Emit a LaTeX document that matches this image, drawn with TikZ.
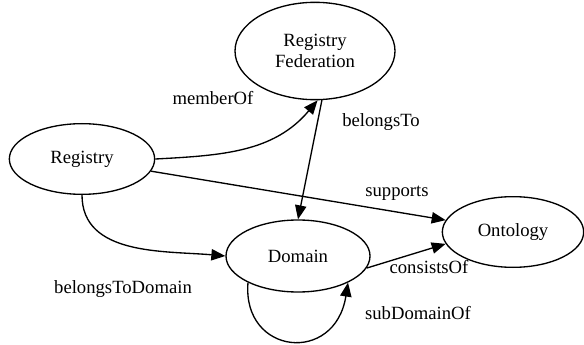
\documentclass[tikz,border=0pt]{standalone}
\usepackage{fontspec}
\setmainfont{Liberation Serif}
\usetikzlibrary{arrows.meta,positioning,shapes.geometric}

\begin{document}
\begin{tikzpicture}[x=0.75pt,y=-0.75pt,
    cls/.style={draw,ellipse,line width=1pt,inner sep=0pt,align=center,font=\fontsize{14}{16}\selectfont},
    rel/.style={-{Triangle[length=10.5pt,width=8.5pt]},line width=1pt},
    lbl/.style={font=\fontsize{14}{16}\selectfont}]
  \useasboundingbox (0,0) rectangle (584,345);

  % classes
  \node[cls,minimum width=109pt,minimum height=53pt] (reg) at (82,159) {Registry};
  \node[cls,minimum width=120pt,minimum height=73pt] (fed) at (315,51) {Registry\\Federation};
  \node[cls,minimum width=108pt,minimum height=54pt] (dom) at (298,256) {Domain};
  \node[cls,minimum width=106pt,minimum height=53pt] (ont) at (513,232) {Ontology};

  % relations
  \draw[rel] (reg.east) to[out=3,in=230] (fed.-87);
  \draw[rel] (fed.-82) -- (dom.north);
  \draw[rel] (reg.-10) -- (ont.170);
  \draw[rel] (reg.south) to[out=-90,in=175] (dom.west);
  \draw[rel] (dom.-10) -- (ont.190);
  \draw[rel] (dom.208) .. controls (242,355) and (335,365) .. (dom.-28);

  % labels
  \node[lbl] (memberOf) at (213,98) {memberOf};
  \node[lbl] (belongsTo) at (381,122) {belongsTo};
  \node[lbl] (supports) at (397,193) {supports};
  \node[lbl] (belongsToDomain) at (123,289) {belongsToDomain};
  \node[lbl] (consistsOf) at (429,267) {consistsOf};
  \node[lbl] (subDomainOf) at (418,313) {subDomainOf};
\end{tikzpicture}
\end{document}
